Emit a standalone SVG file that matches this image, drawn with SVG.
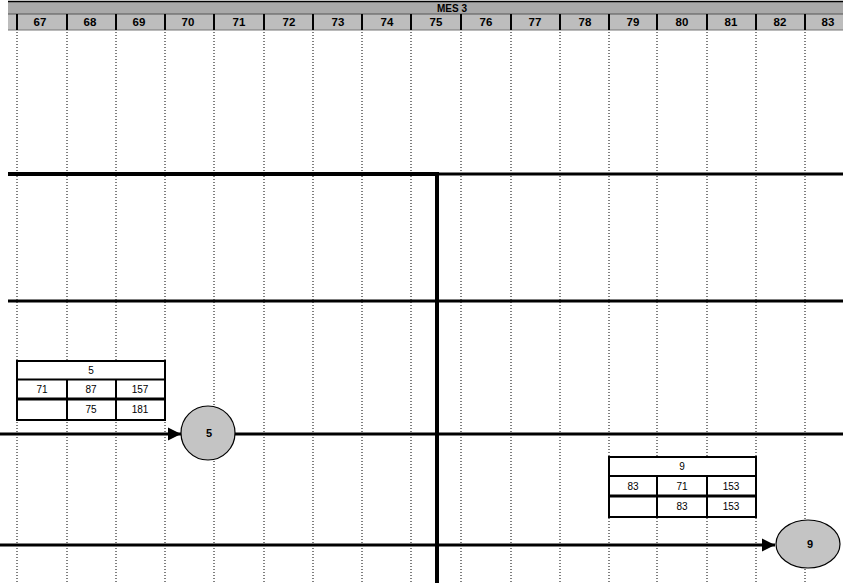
<svg xmlns="http://www.w3.org/2000/svg" width="843" height="583" viewBox="0 0 843 583">
<style>
.hdr{fill:#a9a9a9}
.cell{fill:#bdbdbd}
.num{font-family:"Liberation Sans",Arial,sans-serif;font-size:11.5px;font-weight:bold;fill:#000;text-anchor:middle}
.mes{font-family:"Liberation Sans",Arial,sans-serif;font-size:10px;font-weight:bold;fill:#000;text-anchor:middle}
.t{font-family:"Liberation Sans",Arial,sans-serif;font-size:10px;fill:#000;text-anchor:middle}
.nl{font-family:"Liberation Sans",Arial,sans-serif;font-size:11px;font-weight:bold;fill:#000;text-anchor:middle}
.grid{stroke:#000;stroke-width:1;stroke-dasharray:1 2}
.div{stroke:#000;stroke-width:2}
.thick{stroke:#000;stroke-width:3;fill:none}
.box{fill:#fff;stroke:#000;stroke-width:2}
.node{fill:#c4c4c4;stroke:#000;stroke-width:1.2}
</style>
<defs>
<marker id="ah" viewBox="0 0 10 10" refX="10" refY="5" markerWidth="4.5" markerHeight="4.5" orient="auto" markerUnits="strokeWidth">
<path d="M0,0 L10,5 L0,10 z" fill="#000"/>
</marker>
</defs>
<rect width="843" height="583" fill="#fff"/>
<g id="header">
<rect class="hdr" x="8" y="1" width="835" height="13"/>
<line x1="8" y1="1.5" x2="843" y2="1.5" stroke="#000" stroke-width="1.5"/>
<text class="mes" x="452" y="12">MES 3</text>
<rect class="cell" x="8" y="14" width="835" height="16"/>
<line x1="8" y1="14" x2="843" y2="14" stroke="#555" stroke-width="1"/>
<line x1="8" y1="30" x2="843" y2="30" stroke="#777" stroke-width="1"/>
<g class="div">
<line x1="17" y1="14" x2="17" y2="30"/><line x1="67" y1="14" x2="67" y2="30"/><line x1="116" y1="14" x2="116" y2="30"/><line x1="165" y1="14" x2="165" y2="30"/><line x1="214" y1="14" x2="214" y2="30"/><line x1="264" y1="14" x2="264" y2="30"/><line x1="313" y1="14" x2="313" y2="30"/><line x1="362" y1="14" x2="362" y2="30"/><line x1="411" y1="14" x2="411" y2="30"/><line x1="461" y1="14" x2="461" y2="30"/><line x1="511" y1="14" x2="511" y2="30"/><line x1="560" y1="14" x2="560" y2="30"/><line x1="609" y1="14" x2="609" y2="30"/><line x1="657" y1="14" x2="657" y2="30"/><line x1="707" y1="14" x2="707" y2="30"/><line x1="756" y1="14" x2="756" y2="30"/><line x1="805" y1="14" x2="805" y2="30"/>
</g>
<text class="num" x="40" y="26">67</text><text class="num" x="90" y="26">68</text><text class="num" x="139" y="26">69</text><text class="num" x="188" y="26">70</text><text class="num" x="239" y="26">71</text><text class="num" x="289" y="26">72</text><text class="num" x="338" y="26">73</text><text class="num" x="387" y="26">74</text><text class="num" x="436" y="26">75</text><text class="num" x="486" y="26">76</text><text class="num" x="535" y="26">77</text><text class="num" x="585" y="26">78</text><text class="num" x="633" y="26">79</text><text class="num" x="682" y="26">80</text><text class="num" x="731" y="26">81</text><text class="num" x="780" y="26">82</text><text class="num" x="828" y="26">83</text>
</g>
<g id="grid" class="grid">
<line x1="17" y1="32" x2="17" y2="583"/><line x1="67" y1="32" x2="67" y2="583"/><line x1="116" y1="32" x2="116" y2="583"/><line x1="165" y1="32" x2="165" y2="583"/><line x1="214" y1="32" x2="214" y2="583"/><line x1="264" y1="32" x2="264" y2="583"/><line x1="313" y1="32" x2="313" y2="583"/><line x1="362" y1="32" x2="362" y2="583"/><line x1="411" y1="32" x2="411" y2="583"/><line x1="461" y1="32" x2="461" y2="583"/><line x1="511" y1="32" x2="511" y2="583"/><line x1="560" y1="32" x2="560" y2="583"/><line x1="609" y1="32" x2="609" y2="583"/><line x1="657" y1="32" x2="657" y2="583"/><line x1="707" y1="32" x2="707" y2="583"/><line x1="756" y1="32" x2="756" y2="583"/><line x1="805" y1="32" x2="805" y2="583"/>
</g>
<g id="connectors">
<line x1="8" y1="174" x2="439" y2="174" stroke="#000" stroke-width="4"/>
<line x1="437" y1="174" x2="843" y2="174" class="thick"/>
<line x1="437" y1="172" x2="437" y2="583" stroke="#000" stroke-width="4"/>
<line x1="8" y1="301" x2="843" y2="301" class="thick"/>
<line x1="0" y1="434" x2="181" y2="434" class="thick" marker-end="url(#ah)"/>
<line x1="235" y1="434" x2="843" y2="434" class="thick"/>
<line x1="0" y1="545" x2="775" y2="545" class="thick" marker-end="url(#ah)"/>
</g>
<g id="box5">
<rect class="box" x="17" y="361" width="148" height="59"/>
<line x1="17" y1="379.5" x2="165" y2="379.5" stroke="#000" stroke-width="2"/>
<line x1="17" y1="399" x2="165" y2="399" stroke="#000" stroke-width="3"/>
<line x1="67" y1="379" x2="67" y2="420" stroke="#000" stroke-width="2"/>
<line x1="116" y1="379" x2="116" y2="420" stroke="#000" stroke-width="2"/>
<text class="t" x="91" y="374">5</text>
<text class="t" x="42" y="393">71</text><text class="t" x="91" y="393">87</text><text class="t" x="140" y="393">157</text>
<text class="t" x="91" y="413">75</text><text class="t" x="140" y="413">181</text>
</g>
<g id="node5">
<circle class="node" cx="208" cy="433" r="27"/>
<text class="nl" x="209" y="437">5</text>
</g>
<g id="box9">
<rect class="box" x="609" y="457" width="147" height="60"/>
<line x1="609" y1="476" x2="756" y2="476" stroke="#000" stroke-width="2"/>
<line x1="609" y1="496" x2="756" y2="496" stroke="#000" stroke-width="3"/>
<line x1="657" y1="476" x2="657" y2="517" stroke="#000" stroke-width="2"/>
<line x1="707" y1="476" x2="707" y2="517" stroke="#000" stroke-width="2"/>
<text class="t" x="682" y="470">9</text>
<text class="t" x="633" y="490">83</text><text class="t" x="682" y="490">71</text><text class="t" x="731" y="490">153</text>
<text class="t" x="682" y="510">83</text><text class="t" x="731" y="510">153</text>
</g>
<g id="node9">
<ellipse class="node" cx="808" cy="544" rx="32" ry="24"/>
<text class="nl" x="810" y="548">9</text>
</g>
</svg>
